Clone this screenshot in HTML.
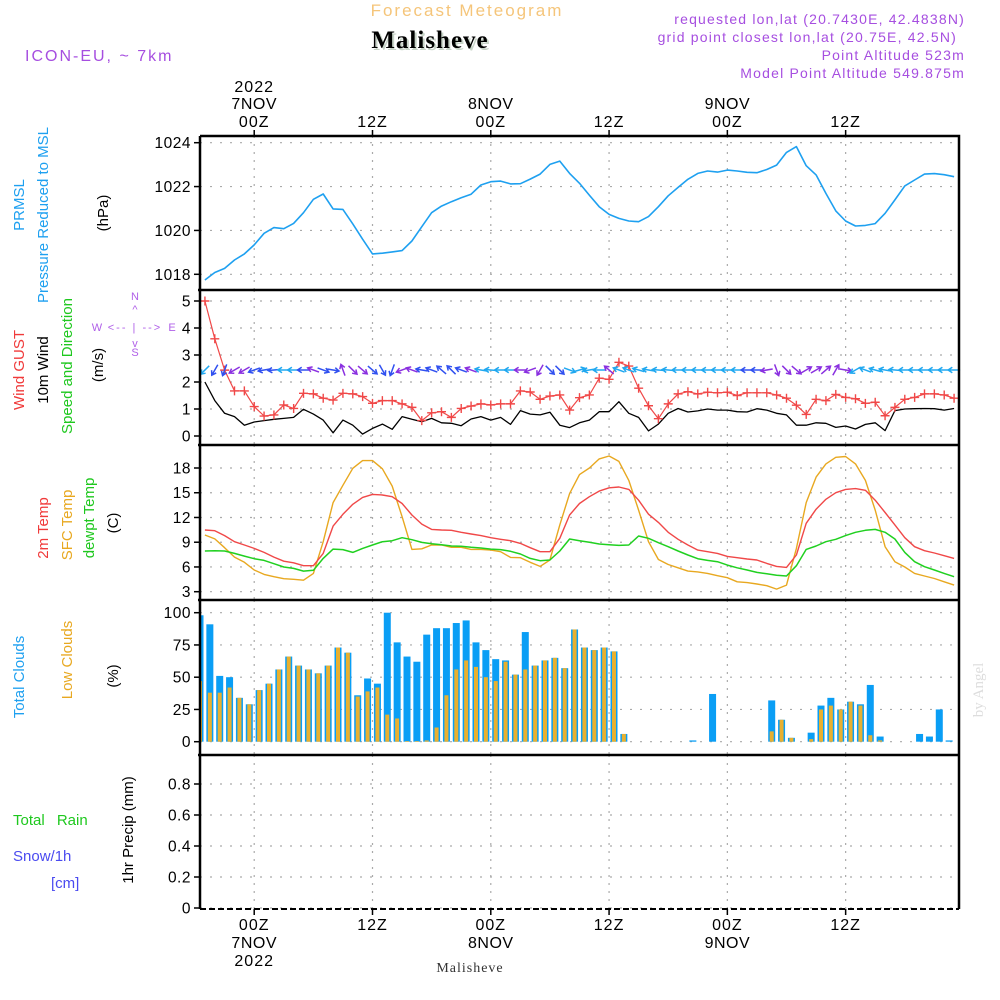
<!DOCTYPE html>
<html><head><meta charset="utf-8"><style>
html,body{margin:0;padding:0;background:#fff;}
svg{display:block;font-family:"Liberation Sans",sans-serif;}
</style></head><body>
<svg id="chart" width="1000" height="1000" viewBox="0 0 1000 1000" xmlns="http://www.w3.org/2000/svg">
<g>
<text x="467" y="16" text-anchor="middle" font-size="17" fill="#f5c57a" letter-spacing="2">Forecast Meteogram</text>
<text x="432" y="50" text-anchor="middle" font-size="25" font-weight="bold" font-family="Liberation Serif,serif" fill="#c8d4c8" letter-spacing="1">Malisheve</text>
<text x="430" y="48" text-anchor="middle" font-size="25" font-weight="bold" font-family="Liberation Serif,serif" fill="#000" letter-spacing="1">Malisheve</text>
<g fill="#a64ee0" font-size="14" letter-spacing="1.2" text-anchor="end">
<text x="965" y="24">requested lon,lat (20.7430E, 42.4838N)</text>
<text x="957" y="42">grid point closest lon,lat (20.75E, 42.5N)</text>
<text x="965" y="60">Point Altitude 523m</text>
<text x="965" y="78">Model Point Altitude 549.875m</text>
</g>
<text x="25" y="61" font-size="16" fill="#a64ee0" letter-spacing="2">ICON-EU, ~ 7km</text>
</g>
<g id="grid"></g>
<g id="marks"></g>
<g id="axes"></g>
<g font-size="15">
<text transform="translate(24,205) rotate(-90)" text-anchor="middle" fill="#1ea0f0">PRMSL</text>
<text transform="translate(48,215) rotate(-90)" text-anchor="middle" fill="#1ea0f0">Pressure Reduced to MSL</text>
<text transform="translate(108,213) rotate(-90)" text-anchor="middle" fill="#000">(hPa)</text>
<text transform="translate(24,370) rotate(-90)" text-anchor="middle" fill="#f03a3a">Wind GUST</text>
<text transform="translate(48,370) rotate(-90)" text-anchor="middle" fill="#000">10m Wind</text>
<text transform="translate(72,366) rotate(-90)" text-anchor="middle" fill="#1ec81e">Speed and Direction</text>
<text transform="translate(103,365) rotate(-90)" text-anchor="middle" fill="#000">(m/s)</text>
<g fill="#b060e8" font-size="11">
<text x="135" y="300" text-anchor="middle">N</text>
<text x="135" y="313" text-anchor="middle">^</text>
<text x="97" y="331" text-anchor="middle">W</text>
<text x="172" y="331" text-anchor="middle">E</text>
<text x="135" y="331" text-anchor="middle" letter-spacing="2">&lt;-- | --&gt;</text>
<text x="135" y="347" text-anchor="middle">v</text>
<text x="135" y="356" text-anchor="middle">S</text>
</g>
<text transform="translate(48,528) rotate(-90)" text-anchor="middle" fill="#f03a3a">2m Temp</text>
<text transform="translate(72,525) rotate(-90)" text-anchor="middle" fill="#e8a820">SFC Temp</text>
<text transform="translate(94,518) rotate(-90)" text-anchor="middle" fill="#1ec81e">dewpt Temp</text>
<text transform="translate(118,523) rotate(-90)" text-anchor="middle" fill="#000">(C)</text>
<text transform="translate(24,677) rotate(-90)" text-anchor="middle" fill="#1ea0f0">Total Clouds</text>
<text transform="translate(72,660) rotate(-90)" text-anchor="middle" fill="#e8a820">Low Clouds</text>
<text transform="translate(118,676) rotate(-90)" text-anchor="middle" fill="#000">(%)</text>
<text x="13" y="825" fill="#1ec81e" word-spacing="8">Total  Rain</text>
<text x="13" y="861" fill="#4a4af0">Snow/1h</text>
<text x="51" y="888" fill="#4a4af0">[cm]</text>
<text transform="translate(133,830) rotate(-90)" text-anchor="middle" fill="#000">1hr Precip (mm)</text>
</g>
<text x="470" y="972" text-anchor="middle" font-size="14" font-family="Liberation Serif,serif" fill="#333" letter-spacing="1">Malisheve</text>
<text transform="translate(983,690) rotate(-90)" text-anchor="middle" font-size="15" font-family="Liberation Serif,serif" fill="#ddd">by Angel</text>
</svg>
<script>
const hours = [];
for (let h = -5; h <= 71; h++) hours.push(h);
const pressure = [1017.74,1018.08,1018.27,1018.65,1018.93,1019.34,1019.87,1020.13,1020.08,1020.32,1020.81,1021.42,1021.66,1020.98,1020.96,1020.3,1019.6,1018.93,1018.96,1019.02,1019.08,1019.52,1020.17,1020.81,1021.11,1021.31,1021.49,1021.65,1022.07,1022.22,1022.25,1022.12,1022.13,1022.34,1022.57,1023.01,1023.16,1022.6,1022.15,1021.6,1021.08,1020.73,1020.55,1020.43,1020.4,1020.63,1021.08,1021.58,1021.96,1022.33,1022.6,1022.71,1022.66,1022.75,1022.71,1022.65,1022.63,1022.78,1022.98,1023.56,1023.82,1022.95,1022.53,1021.69,1020.89,1020.43,1020.2,1020.23,1020.31,1020.78,1021.39,1022.03,1022.3,1022.57,1022.59,1022.54,1022.45];
const gust = [5.0,3.6,2.44,1.67,1.67,1.09,0.74,0.78,1.15,1.02,1.58,1.56,1.4,1.33,1.58,1.56,1.46,1.21,1.31,1.31,1.19,1.06,0.57,0.86,0.9,0.69,1.02,1.11,1.19,1.15,1.19,1.19,1.67,1.63,1.36,1.48,1.52,0.96,1.42,1.52,2.14,2.1,2.73,2.59,1.77,1.12,0.64,1.19,1.56,1.64,1.56,1.62,1.6,1.62,1.5,1.6,1.6,1.6,1.52,1.4,1.14,0.8,1.36,1.31,1.54,1.43,1.38,1.21,1.25,0.75,1.06,1.36,1.43,1.56,1.56,1.52,1.4];
const wind10m = [2.0,1.31,0.84,0.72,0.4,0.52,0.57,0.62,0.65,0.69,0.99,0.81,0.59,0.12,0.59,0.4,0.07,0.28,0.44,0.25,0.72,0.62,0.53,0.65,0.49,0.47,0.38,0.63,0.72,0.59,0.69,0.43,0.94,0.81,0.78,0.88,0.4,0.31,0.49,0.59,0.9,0.9,1.27,0.84,0.69,0.19,0.44,0.84,1.02,0.89,0.93,1.0,0.96,0.96,0.9,0.89,1.01,0.96,0.84,0.78,0.4,0.4,0.49,0.47,0.32,0.37,0.26,0.43,0.49,0.2,0.94,1.0,1.01,1.02,1.01,0.96,1.02];
const windDir = [135,120,110,150,150,160,170,175,180,180,180,200,20,10,250,45,40,40,60,110,160,200,190,200,220,225,200,200,190,185,180,180,180,160,120,45,45,20,345,170,180,220,200,200,195,190,185,185,180,180,180,180,180,180,180,180,180,170,70,45,40,330,330,320,300,10,150,200,195,190,185,180,180,180,180,180,180];
const windCls = ["c","b","b","p","p","b","b","b","c","c","b","p","b","b","p","p","p","b","b","b","p","p","b","b","b","b","b","p","c","c","c","c","p","p","p","b","b","c","c","c","c","p","c","c","c","c","c","c","c","c","c","c","c","c","c","b","b","p","p","p","p","p","p","p","p","p","c","c","c","c","c","c","c","c","c","c","c"];
const temp2m = [10.48,10.4,9.8,9.06,8.66,8.25,7.77,7.2,6.7,6.5,6.15,6.15,7.65,10.96,12.38,13.6,14.44,14.8,14.72,14.52,13.7,12.3,11.2,10.56,10.48,10.44,10.2,10.0,9.8,9.55,9.35,9.18,8.86,8.34,7.85,7.85,9.47,12.3,13.7,14.52,15.2,15.6,15.7,15.4,14.1,12.4,11.4,10.2,9.35,8.66,8.05,7.85,7.65,7.28,7.12,6.96,6.84,6.43,6.07,5.95,7.45,11.3,13.0,14.2,15.0,15.4,15.5,15.3,14.1,12.6,11.1,9.55,8.46,7.97,7.69,7.36,7.04];
const sfcTemp = [9.87,9.4,8.33,7.2,6.56,5.63,5.1,4.82,4.58,4.5,4.4,5.22,9.06,13.8,15.9,17.96,18.9,18.9,17.9,15.8,12.1,8.13,8.2,8.66,8.66,8.38,8.38,8.13,8.13,8.05,7.85,7.16,7.12,6.56,6.07,6.84,11.1,14.9,17.2,18.0,19.1,19.45,18.8,16.5,12.9,9.06,6.9,6.3,5.9,5.5,5.4,5.22,4.94,4.7,4.2,4.1,3.93,3.73,3.32,3.8,8.25,13.8,16.9,18.5,19.3,19.4,18.5,16.5,12.9,8.46,6.64,6.0,5.22,4.9,4.6,4.2,3.8];
const dewpt = [7.93,7.97,7.93,7.65,7.32,7.0,6.8,6.4,6.0,5.83,5.5,5.6,7.04,8.17,8.1,7.77,8.25,8.66,9.06,9.18,9.55,9.3,8.98,8.82,8.7,8.54,8.5,8.38,8.3,8.17,8.1,7.9,7.57,7.04,6.76,6.84,7.93,9.39,9.18,9.0,8.78,8.7,8.62,8.66,9.75,9.47,8.94,8.46,7.93,7.45,7.0,6.8,6.64,6.23,5.9,5.63,5.34,5.18,5.0,4.9,6.15,8.13,8.54,9.06,9.35,9.8,10.2,10.44,10.56,10.2,9.39,7.77,6.64,6.03,5.63,5.22,4.82];
const totalClouds = [98,91,51,50,34,29,40,45,56,66,59,56,53,59,73,69,36,49,45,100,77,66,62,83,88,88,92,94,77,71,64,63,52,85,59,63,65,57,87,73,71,73,70,6,0,0,0,0,0,0,1,0,37,0,0,0,0,0,32,17,3,0,7,28,34,25,31,29,44,4,0,0,0,6,4,25,1];
const lowClouds = [47,38,38,42,34,29,40,45,56,66,59,56,53,59,73,69,35,39,42,21,18,0.5,0.5,1,11,36,56,63,58,50,47,62,52,56,59,63,65,57,87,73,71,73,70,6,0,0,0,0,0,0,0,0,0,0,0,0,0,0,8,17,3,0,2,25,28,25,31,28,5,1,0,0,0,0,0,0,0];
const pressTicks = [1018,1020,1022,1024];
const windTicks = [0,1,2,3,4,5];
const tempTicks = [3,6,9,12,15,18];
const cloudTicks = [0,25,50,75,100];
const precipTicks = [0,0.2,0.4,0.6,0.8];
const timeTicks = [0,12,24,36,48,60];
const timeLabels = ["00Z","12Z","00Z","12Z","00Z","12Z"];
const dayLabels = ["7NOV","","8NOV","","9NOV",""];

const NS = "http://www.w3.org/2000/svg";
const X0 = 200, X1 = 959, T0 = -5.5, T1 = 71.5;
function xOf(t){ return X0 + (t - T0) * (X1 - X0) / (T1 - T0); }
function scaleY(v0, y0, v1, y1){ return v => y0 + (v - v0) * (y1 - y0) / (v1 - v0); }
const yP = scaleY(1018, 274.3, 1024, 142.7);
const yW = scaleY(0, 436, 5, 301);
const yT = scaleY(18, 468, 3, 591.7);
const yC = scaleY(0, 741.7, 100, 612.7);
const yR = scaleY(0, 908, 0.8, 784);
function el(tag, attrs, parent){
  const e = document.createElementNS(NS, tag);
  for (const k in attrs) e.setAttribute(k, attrs[k]);
  parent.appendChild(e); return e;
}
const grid = document.getElementById("grid");
const marks = document.getElementById("marks");
const axes = document.getElementById("axes");
const panels = [
  {name:"pressure", top:136, bot:290, ticks:pressTicks, y:yP},
  {name:"wind", top:290, bot:445, ticks:windTicks, y:yW},
  {name:"temp", top:445, bot:600, ticks:tempTicks, y:yT},
  {name:"clouds", top:600, bot:755, ticks:cloudTicks, y:yC},
  {name:"precip", top:755, bot:909, ticks:precipTicks, y:yR}
];
panels.forEach(p => {
  p.ticks.forEach(v => {
    const y = p.y(v);
    const g = el("line", {x1:X0, x2:X1, y1:y, y2:y, stroke:"#aaa", "stroke-width":1.2, "stroke-dasharray":"2,8"}, grid);
    
    
    const tk = el("line", {x1:X0-6, x2:X0, y1:y, y2:y, stroke:"#000", "stroke-width":1.5}, axes);
    
    
    const lb = el("text", {x:X0-9, y:y+5.5, "text-anchor":"end", "font-size":15.5, fill:"#000", "letter-spacing":0.5}, axes);
    lb.textContent = String(v);
    
    
  });
  timeTicks.forEach(t => {
    const x = xOf(t);
    const g = el("line", {x1:x, x2:x, y1:p.top, y2:p.bot, stroke:"#aaa", "stroke-width":1.2, "stroke-dasharray":"2,6"}, grid);
    
    
  });
});
const frame = el("path", {d:`M${X0},136 H${X1} V909 M${X0},136 V909`, fill:"none", stroke:"#000", "stroke-width":2.5}, axes);


[290,445,600,755].forEach(y => {
  const s = el("line", {x1:X0-2, x2:X1+1, y1:y, y2:y, stroke:"#000", "stroke-width":2.5}, axes);
  
  
});
const bl = el("line", {x1:X0, x2:X1, y1:909, y2:909, stroke:"#000", "stroke-width":2, "stroke-dasharray":"6,3"}, axes);


timeTicks.forEach((t, i) => {
  const x = xOf(t);
  const tt = el("line", {x1:x, x2:x, y1:130, y2:136, stroke:"#000", "stroke-width":1.5}, axes);
  
  
  const tb = el("line", {x1:x, x2:x, y1:909, y2:915, stroke:"#000", "stroke-width":1.5}, axes);
  
  
  const a = el("text", {x:x, y:127, "text-anchor":"middle", "font-size":16, fill:"#000", "letter-spacing":1}, axes);
  a.textContent = timeLabels[i];
  
  
  const b = el("text", {x:x, y:930, "text-anchor":"middle", "font-size":16, fill:"#000", "letter-spacing":1}, axes);
  b.textContent = timeLabels[i];
  
  
  if (dayLabels[i]) {
    const d1 = el("text", {x:x, y:109, "text-anchor":"middle", "font-size":16, fill:"#000", "letter-spacing":0.5}, axes);
    d1.textContent = dayLabels[i];
    
    
    const d2 = el("text", {x:x, y:948, "text-anchor":"middle", "font-size":16, fill:"#000", "letter-spacing":0.5}, axes);
    d2.textContent = dayLabels[i];
    
    
  }
});
const y1 = el("text", {x:xOf(0), y:92, "text-anchor":"middle", "font-size":16, fill:"#000", "letter-spacing":1}, axes);
y1.textContent = "2022";


const y2 = el("text", {x:xOf(0), y:966, "text-anchor":"middle", "font-size":16, fill:"#000", "letter-spacing":1}, axes);
y2.textContent = "2022";



function line(vals, yf, color, name, w){
  const pts = vals.map((v, i) => xOf(hours[i]).toFixed(1) + "," + yf(v).toFixed(1)).join(" ");
  const pl = el("polyline", {points:pts, fill:"none", stroke:color, "stroke-width":w||1.5, "stroke-linejoin":"round"}, marks);
  
  
}
totalClouds.forEach((v, i) => {
  const x = xOf(T0 + i);
  const r = el("rect", {x:Math.max(X0, x-3.5), y:yC(v), width:Math.max(0, Math.min(x+3.5, X1)-Math.max(X0, x-3.5)), height:yC(0)-yC(v), fill:"#0a9ef5"}, marks);
  
  
});
lowClouds.forEach((v, i) => {
  const x = xOf(T0 + i);
  const r = el("rect", {x:Math.max(X0, x-2), y:yC(v), width:Math.max(0, Math.min(x+2, X1)-Math.max(X0, x-2)), height:yC(0)-yC(v), fill:"#e8b030"}, marks);
  
  
});
line(pressure, yP, "#1ea0f0", "pressure-line", 1.6);
line(sfcTemp, yT, "#e8a820", "sfc-temp-line", 1.4);
line(temp2m, yT, "#f04848", "temp-2m-line", 1.4);
line(dewpt, yT, "#20d020", "dewpt-line", 1.5);
line(wind10m, yW, "#000", "wind-10m-line", 1.3);
line(gust, yW, "#f04848", "wind-gust-line", 1.2);
gust.forEach((v, i) => {
  const x = xOf(hours[i]), y = yW(v);
  const m = el("path", {d:`M${x-4.5},${y} H${x+4.5} M${x},${y-4.5} V${y+4.5}`, stroke:"#f04848", "stroke-width":1.4}, marks);
  
  
});
const clsColor = {c:"#20a8f0", b:"#3050f0", p:"#8a30e0"};
windDir.forEach((d, i) => {
  const x = xOf(hours[i]), y = 370;
  const a = d * Math.PI / 180, L = 12;
  const x2 = x + Math.cos(a)*L/2, y2 = y + Math.sin(a)*L/2;
  const x1 = x - Math.cos(a)*L/2, y1 = y - Math.sin(a)*L/2;
  const h1 = a + Math.PI*0.82, h2 = a - Math.PI*0.82;
  const dd = `M${x1.toFixed(1)},${y1.toFixed(1)} L${x2.toFixed(1)},${y2.toFixed(1)} M${(x2+Math.cos(h1)*5).toFixed(1)},${(y2+Math.sin(h1)*5).toFixed(1)} L${x2.toFixed(1)},${y2.toFixed(1)} L${(x2+Math.cos(h2)*5).toFixed(1)},${(y2+Math.sin(h2)*5).toFixed(1)}`;
  const ar = el("path", {d:dd, fill:"none", stroke:clsColor[windCls[i]], "stroke-width":1.5}, marks);
  
  
});
</script>
</body></html>
